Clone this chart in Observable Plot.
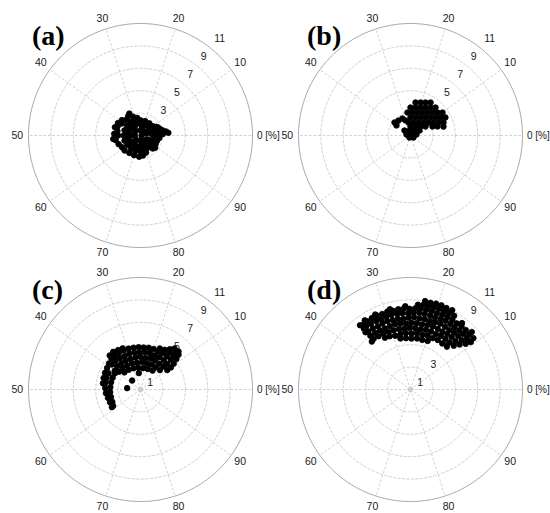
<!DOCTYPE html>
<html><head><meta charset="utf-8">
<script src="https://cdn.jsdelivr.net/npm/d3@7"></script>
<script src="https://cdn.jsdelivr.net/npm/@observablehq/plot@0.6"></script>
<style>
html,body{margin:0;padding:0;background:#fff}
#fig{position:relative;width:550px;height:513px;overflow:hidden;background:#fff}
.panel{position:absolute}
.tag{position:absolute;font-family:"Liberation Serif","Times New Roman",serif;font-weight:bold;font-size:28px;line-height:1;color:#000}
</style></head><body>
<div id="fig"></div>
<script>
// ---- axis ticks and labels ----
const angleTicks = [0, 10, 20, 30, 40, 50, 60, 70, 80, 90];      // [%], full circle = 100
const angleLabels = ["0 [%]", "10", "20", "30", "40", "50", "60", "70", "80", "90"];
const ringTicks = [2, 4, 6, 8];
const outerRadius = 10;
const centerRing = 0.22;
const radiusLabels = [1, 3, 5, 7, 9, 11];
const panelNames = ["(a)", "(b)", "(c)", "(d)"];

// ---- data: [angle (%), radius] ----
const pointsA = [
  [0,0.1],[25,0.45],[50,0.5],[75,0.45],[5,0.55],[88,0.6],[40,0.6],[62,0.55],[12,0.5],
  [8,0.75],[22,0.75],[36,0.8],[50,0.75],[64,0.8],[78,0.75],[92,0.75],
  [2,1.0],[10,0.95],[18,1.0],[26,1.05],[34,1.0],[42,1.05],[50,1.0],[58,1.05],[66,1.0],[74,0.95],[82,1.0],[92,0.95],
  [6,1.2],[14,1.2],[22,1.2],[30,1.25],[38,1.25],[46,1.25],[54,1.25],[62,1.25],[70,1.2],[78,1.2],[86,1.15],[96,1.2],
  [0,1.4],[5,1.45],[10,1.4],[15,1.35],[20,1.35],[25,1.35],[30,1.45],[35,1.5],[40,1.5],[45,1.5],[50,1.5],[55,1.5],
  [60,1.45],[65,1.45],[70,1.45],[75,1.45],[80,1.4],[85,1.3],[90,1.4],[95,1.4],
  [3,1.65],[8,1.6],[95,1.55],[28,1.6],[80,1.6],
  [31,1.8],[34,2.05],[37,1.9],[41,2.0],[44,2.2],[47,2.1],[50,2.0],[53,2.25],[56,2.1],[59,1.95],[62,1.95],
  [66,1.85],[70,1.85],[74,1.9],[77,1.8],
  [45,2.4],[49,2.35],[52,2.45],[42,2.3],[39,2.15],[32.5,2.2],
  [1.5,2.5],[2.5,2.3],[3.5,2.05],[5,1.85],[7,1.7],[1,2.0],[0.5,1.75],[98,1.7],
  [89,1.7],[87,1.6],[92,1.55]
];
const pointsB = [
  [22.6,2.98],[20.3,3.08],[18.2,3.24],[16.3,3.45],
  [25,2.5],[22.2,2.54],[19.5,2.65],[17.2,2.84],[15.1,3.07],[13.4,3.35],
  [27.1,2.07],[23.6,2.06],[20.3,2.15],[17.3,2.32],[14.9,2.55],[12.9,2.84],[11.2,3.17],[9.9,3.52],
  [25,1.61],[20.7,1.67],[16.9,1.84],[13.9,2.09],[11.7,2.4],[9.9,2.75],[8.6,3.12],[7.6,3.51],
  [27.4,1.17],[21.4,1.19],[16.2,1.36],[12.5,1.64],[9.9,1.98],[8.2,2.36],[6.9,2.76],[6.0,3.17],
  [25,0.8],[16.9,0.92],[11.7,1.2],[8.6,1.56],[6.2,2.12],[5.1,2.54],[4.2,3.05],
  [38.9,0.7],[28.1,0.46],[14.3,0.57],[8.1,0.92],[46.1,0.37],[12.5,0.13],[2.6,0.54],[67.6,0.2],[90.6,0.32],
  [39.1,1.84],[35.8,1.71],[32,1.68],[40.1,1.54],[30.1,1.41]
];
const pointsC = [
  [16,2.0],[19.5,1.95],[23,1.92],[26.5,1.95],[30,2.0],[33.5,2.05],[37,2.1],
  [12.5,2.45],[15.4,2.4],[18.3,2.45],[21.2,2.4],[24,2.45],[27,2.4],[30,2.45],[33,2.45],[36,2.5],[39,2.5],
  [10,2.95],[12.5,2.9],[15,2.85],[17.5,2.9],[20,2.9],[22.5,2.85],[25,2.9],[27.5,2.9],[30,2.85],[32.5,2.9],[35,2.9],[37.5,2.95],[40,2.85],
  [10,3.35],[12.2,3.3],[14.4,3.35],[16.6,3.35],[18.8,3.3],[21,3.35],[23.2,3.35],[25.4,3.3],[27.6,3.35],[29.8,3.35],[32,3.3],[34.2,3.35],[36.4,3.4],[38.6,3.4],
  [10.5,3.75],[12.4,3.8],[14.3,3.8],[16.2,3.8],[18.1,3.75],[20,3.8],[21.9,3.8],[23.8,3.75],[25.7,3.78],[27.6,3.78],[29.5,3.8],[31.4,3.8],[33.3,3.8],[35.2,3.8],[37.1,3.75],[39,3.65],[40.9,3.55],
  [11.2,4.2],[12.9,4.25],[14.6,4.2],[16.3,4.15],[18,4.05],[31.5,4.0],[33.2,4.05],[35,4.15],[36.7,4.1],
  [11.8,4.6],[13.4,4.65],[15,4.45],[12.5,4.8],[14,4.75],
  [41,2.7],[43.6,2.7],[46.2,2.7],[48.8,2.7],[51.4,2.72],[54,2.72],[56.6,2.75],[58.6,2.85],
  [42.5,3.2],[44.8,3.2],[47.1,3.2],[49.4,3.15],[51.7,3.1],[54,3.0],[56.3,2.95],[58.8,3.0],
  [43,3.5],[45.2,3.45],[47.4,3.4],
  [26.6,1.47],[36.9,1.1],[48.4,1.2]
];
const pointsD = [
  [19.6,4.6],[21.3,4.55],[23,4.6],[24.7,4.55],[26.4,4.6],[28.1,4.65],
  [13.9,5.05],[15.4,5.0],[17,5.05],[18.5,5.0],[20.1,5.05],[21.6,5.0],[23.2,5.05],[24.7,5.0],[26.3,5.05],[27.8,5.05],[29.4,5.0],[30.9,5.1],[32.3,5.15],
  [12.6,5.5],[14,5.45],[15.4,5.5],[16.8,5.5],[18.2,5.45],[19.6,5.5],[21,5.5],[22.4,5.45],[23.8,5.5],[25.2,5.5],[26.6,5.45],[28,5.5],[29.4,5.5],[30.8,5.5],[32.2,5.55],[33.6,5.55],[35,5.6],
  [11.8,5.95],[13.1,5.9],[14.4,5.95],[15.7,5.95],[17,5.9],[18.3,5.95],[19.6,6.0],[20.9,5.95],[22.2,5.9],[23.5,5.95],[24.8,5.95],[26.1,5.9],[27.4,5.95],[28.7,6.0],[30,5.95],[31.3,5.9],[32.6,5.95],[33.9,5.95],[35.2,6.0],
  [11,6.4],[12.2,6.35],[13.4,6.4],[14.6,6.4],[15.8,6.35],[17,6.4],[18.2,6.45],[19.4,6.4],[20.6,6.35],[21.8,6.4],[23,6.4],[24.2,6.45],[25.4,6.4],[26.6,6.35],[27.8,6.4],[29,6.4],[30.2,6.45],[31.4,6.4],[32.6,6.35],[33.8,6.4],[35,6.4],[35.6,6.5],
  [10.6,6.85],[11.7,6.8],[12.9,6.85],[14,6.85],[15.2,6.8],[16.3,6.85],[17.5,6.9],[18.6,6.85],[19.8,6.8],[20.9,6.85],[22.1,6.85],[23.2,6.9],[24.4,6.85],[25.5,6.8],[26.7,6.85],[27.8,6.85],[29,6.9],[30.1,6.85],[31.3,6.8],[32.4,6.85],[33.6,6.85],[34.7,6.9],[35.4,6.85],
  [10.9,7.25],[12,7.2],[13.1,7.25],[14.2,7.25],[15.3,7.2],[16.4,7.25],[17.5,7.3],[18.6,7.25],[19.7,7.2],[20.8,7.25],[21.9,7.25],[23,7.3],[24.1,7.25],[25.2,7.2],[26.3,7.25],[27.4,7.25],[28.5,7.2],[29.6,7.25],[30.7,7.2],[31.8,7.25],[32.9,7.25],[34,7.2],[35.0,7.15],
  [12,7.5],[14.5,7.5],[16.5,7.65],[17.6,7.65],[18.6,7.6],[19.6,7.65],[20.6,7.6],[21.6,7.65],[22.6,7.65],[23.6,7.6],[26,7.45],[29,7.4],[32,7.4],[34.3,7.4],
  [17.3,8.0],[18.4,7.95],[19.4,8.0],[20.4,8.0],[21.4,7.95],[22.4,8.0],
  [35.6,7.3],[35.8,5.5]
];
const panelData = [pointsA, pointsB, pointsC, pointsD];

// ---- layout ----
const PX = 11.2;            // pixels per radius unit
const W = 280, H = 270;
const CX = 140, CY = 135;
const panelPos = [[0, 0], [270, 0], [0, 254], [270, 254]];
const tagPos = [[32, 22], [307, 22], [32, 276], [307, 276]];

const rad = t => t * 3.6 * Math.PI / 180;
const toXY = ([t, r]) => ({x: r * Math.cos(rad(t)), y: r * Math.sin(rad(t))});
const labelAngle = 53.3 * Math.PI / 180;

function polarPanel(points) {
  const circlePts = v => d3.range(0, 100.25, 0.25).map(t => ({...toXY([t, v]), v}));
  const rings = ringTicks.flatMap(circlePts);
  const outer = circlePts(outerRadius);
  const inner = circlePts(centerRing);
  const spokes = angleTicks.map(t => toXY([t, outerRadius]));
  const lab = angleTicks.map((t, i) => ({t, label: angleLabels[i]}));
  return Plot.plot({
    width: W, height: H, margin: 0,
    style: {background: "transparent", overflow: "visible", fontFamily: "'Liberation Sans', Arial, sans-serif"},
    x: {domain: [-CX / PX, (W - CX) / PX], range: [0, W], axis: null},
    y: {domain: [-(H - CY) / PX, CY / PX], range: [H, 0], axis: null},
    marks: [
      Plot.line(rings, {x: "x", y: "y", z: "v", stroke: "#c4c4c4", strokeWidth: 0.8, strokeDasharray: "2.5,2"}),
      Plot.link(spokes, {x1: 0, y1: 0, x2: "x", y2: "y", stroke: "#c4c4c4", strokeWidth: 0.8, strokeDasharray: "2.5,2"}),
      Plot.line(inner, {x: "x", y: "y", stroke: "#bbbbbb", strokeWidth: 0.8}),
      Plot.line(outer, {x: "x", y: "y", stroke: "#a6a6a6", strokeWidth: 1}),
      Plot.text(lab.filter(d => d.t !== 0), {
        x: d => 1.1 * outerRadius * Math.cos(rad(d.t)),
        y: d => 1.1 * outerRadius * Math.sin(rad(d.t)),
        text: "label", fontSize: 10.5, fill: "#1a1a1a"
      }),
      Plot.text(lab.filter(d => d.t === 0), {
        x: d => 1.04 * outerRadius * Math.cos(rad(d.t)),
        y: d => 1.04 * outerRadius * Math.sin(rad(d.t)),
        text: "label", textAnchor: "start", fontSize: 10, fill: "#1a1a1a"
      }),
      Plot.text(radiusLabels, {
        x: v => v * Math.cos(labelAngle),
        y: v => v * Math.sin(labelAngle),
        text: v => String(v), textAnchor: "start", dy: 2, fontSize: 10.5, fill: "#1a1a1a"
      }),
      Plot.dot(points.map(toXY), {x: "x", y: "y", r: 2.8, fill: "#000", stroke: "#000", strokeWidth: 0.8})
    ]
  });
}

const fig = document.getElementById("fig");
panelData.forEach((pts, i) => {
  const div = document.createElement("div");
  div.className = "panel";
  div.style.left = panelPos[i][0] + "px";
  div.style.top = panelPos[i][1] + "px";
  div.appendChild(polarPanel(pts));
  fig.appendChild(div);
});
panelNames.forEach((name, i) => {
  const t = document.createElement("div");
  t.className = "tag";
  t.textContent = name;
  t.style.left = tagPos[i][0] + "px";
  t.style.top = tagPos[i][1] + "px";
  fig.appendChild(t);
});
</script>
</body></html>
